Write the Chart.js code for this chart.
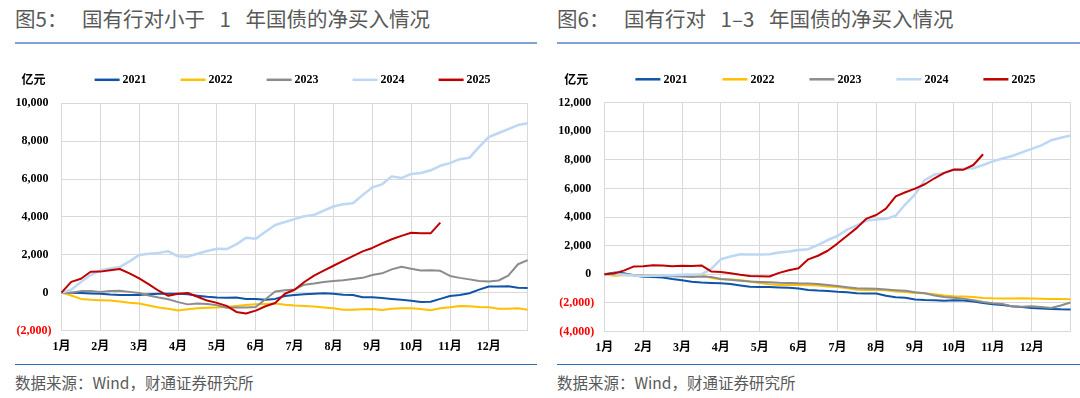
<!DOCTYPE html>
<html><head><meta charset="utf-8">
<script src="https://cdn.jsdelivr.net/npm/chart.js@4.4.0/dist/chart.umd.min.js"></script>
<style>
html,body{margin:0;padding:0;background:#fff;}
body{width:1080px;height:398px;position:relative;overflow:hidden;font-family:"Noto Sans CJK SC",sans-serif;}
.title{position:absolute;top:5px;font-size:20.5px;color:#595959;white-space:pre;word-spacing:10px;line-height:26px;}
.rule{position:absolute;top:42px;height:2px;background:#7DA3D3;}
.rule2{position:absolute;top:363.5px;height:1.5px;background:#2F6DB5;}
.src{position:absolute;top:372px;font-size:15.5px;color:#595959;line-height:20px;white-space:pre;}
.box{position:absolute;top:50px;width:540px;height:315px;}
</style></head>
<body>
<div class="title" style="left:15px">图5： 国有行对小于 1 年国债的净买入情况</div>
<div class="title" style="left:557px">图6： 国有行对 1–3 年国债的净买入情况</div>
<div class="rule" style="left:15px;width:522px"></div>
<div class="rule" style="left:557px;width:523px"></div>
<div class="box" style="left:0"><canvas id="c1" width="540" height="315"></canvas></div>
<div class="box" style="left:540px"><canvas id="c2" width="540" height="315"></canvas></div>
<div class="rule2" style="left:15px;width:522px"></div>
<div class="rule2" style="left:557px;width:523px"></div>
<div class="src" style="left:15px">数据来源：Wind，财通证券研究所</div>
<div class="src" style="left:557px">数据来源：Wind，财通证券研究所</div>
<script>
// ---- data ----
const monthLabels = ['1月','2月','3月','4月','5月','6月','7月','8月','9月','10月','11月','12月'];
const perMonth = 4; // samples per month (weekly-ish)
const periods = Array.from({length: 49}, (_, i) => i); // sampling points across the year
const years = ['2021','2022','2023','2024','2025'];
const colors = ['#0F54A8','#FFC000','#8C8C8C','#BDD7F5','#C00000'];
const unitLabel = '亿元';

// Chart 1: < 1 year
const short2021 = [0,-10,-20,-40,-60,-100,-120,-120,-120,-90,-60,-60,-60,-90,-160,-220,-260,-270,-260,-340,-340,-380,-330,-180,-130,-90,-55,-30,-55,-110,-120,-240,-240,-280,-330,-370,-430,-490,-480,-330,-180,-130,-30,160,320,320,340,260,250];
const short2022 = [0,-150,-330,-380,-400,-420,-470,-530,-570,-680,-780,-850,-940,-880,-830,-800,-780,-760,-700,-650,-620,-600,-580,-640,-680,-700,-730,-780,-830,-900,-900,-880,-870,-920,-850,-830,-820,-860,-930,-820,-770,-700,-720,-760,-770,-850,-850,-830,-900];
const short2023 = [0,0,80,80,40,80,100,40,-20,-150,-260,-350,-500,-620,-580,-600,-660,-800,-790,-780,-760,-350,60,120,170,420,480,560,620,660,720,780,930,1020,1230,1370,1260,1170,1180,1150,880,780,700,620,590,640,900,1500,1720];
const short2024 = [0,150,560,930,1180,1270,1350,1650,1990,2050,2100,2180,1920,1900,2050,2200,2320,2300,2550,2900,2850,3220,3570,3730,3880,4040,4100,4330,4550,4670,4720,5150,5560,5720,6140,6050,6270,6320,6460,6700,6840,7050,7120,7700,8220,8430,8640,8850,8950];
const short2025 = [0,570,730,1100,1110,1180,1250,1020,750,440,100,-170,-60,-20,-220,-420,-540,-700,-1020,-1100,-950,-720,-550,-60,150,560,900,1160,1420,1680,1930,2180,2360,2600,2820,3000,3160,3140,3130,3700];

// Chart 2: 1-3 years
const mid2021 = [0,120,80,-60,-170,-190,-220,-330,-420,-520,-570,-600,-630,-680,-780,-870,-880,-890,-920,-940,-990,-1100,-1140,-1160,-1220,-1250,-1320,-1340,-1340,-1500,-1600,-1640,-1760,-1800,-1810,-1850,-1820,-1830,-1900,-2000,-2100,-2150,-2230,-2280,-2350,-2390,-2420,-2450,-2460];
const mid2022 = [0,-100,-60,-60,-80,-80,-90,-100,-120,-80,-60,-250,-340,-360,-400,-500,-600,-700,-740,-750,-750,-760,-780,-860,-880,-980,-1080,-1100,-1100,-1120,-1200,-1230,-1300,-1330,-1400,-1480,-1530,-1560,-1590,-1650,-1680,-1690,-1690,-1680,-1700,-1710,-1720,-1730,-1750];
const mid2023 = [0,50,30,-40,-80,-100,-110,-130,-160,-190,-150,-180,-330,-380,-450,-500,-530,-560,-590,-600,-630,-640,-680,-750,-820,-900,-980,-1000,-1010,-1060,-1110,-1150,-1250,-1330,-1480,-1580,-1640,-1700,-1810,-1940,-2030,-2080,-2250,-2260,-2240,-2280,-2360,-2180,-1970];
const mid2024 = [0,0,-30,-80,-120,-100,-80,-60,-30,-10,0,380,1050,1250,1400,1380,1380,1400,1520,1600,1700,1760,2050,2400,2680,3120,3420,3760,3830,3880,4100,4900,5600,6600,6980,7090,7320,7380,7420,7650,7900,8100,8280,8530,8780,9020,9380,9560,9710];
const mid2025 = [0,60,260,540,560,640,620,560,600,590,620,200,160,80,-30,-110,-130,-150,100,280,420,1050,1300,1650,2150,2700,3250,3900,4150,4600,5450,5740,6000,6300,6720,7100,7330,7320,7650,8400];

// ---- legend plugin ----
const yearLegend = {
  id: 'yearLegend',
  afterDraw(chart, args, opts) {
    const {ctx, chartArea} = chart;
    ctx.save();
    const y = chartArea.top + opts.offsetY;
    ctx.font = 'bold 12px "Liberation Serif", serif';
    ctx.textBaseline = 'middle';
    const lineW = 25, gap = 3;
    const ds = chart.data.datasets;
    const total = (ds.length - 1) * opts.step + lineW + gap + ctx.measureText(ds[ds.length-1].label).width;
    let x = (chartArea.left + chartArea.right) / 2 - total / 2 + opts.shift;
    ds.forEach(d => {
      ctx.strokeStyle = d.borderColor; ctx.lineWidth = 2.5;
      ctx.beginPath(); ctx.moveTo(x, y); ctx.lineTo(x + lineW, y); ctx.stroke();
      ctx.fillStyle = '#000'; ctx.textAlign = 'left';
      ctx.fillText(d.label, x + lineW + gap, y + 0.5);
      x += opts.step;
    });
    ctx.font = 'bold 12px "Noto Sans CJK SC", sans-serif';
    ctx.textAlign = 'right';
    ctx.fillText(opts.unit, chartArea.left + opts.unitDx, y);
    ctx.restore();
  }
};

function fmt(v){ return Math.abs(v).toLocaleString('en-US'); }

function makeChart(id, series, yMin, yMax, g) {
  const datasets = series.map((s, i) => ({
    label: years[i], data: s, borderColor: colors[i], backgroundColor: colors[i],
    borderWidth: i === 3 ? 2.5 : 2, pointRadius: 0, tension: 0, fill: false,
    order: series.length - i, borderJoinStyle: 'round'
  }));
  return new Chart(document.getElementById(id), {
    type: 'line',
    data: { labels: periods, datasets },
    plugins: [yearLegend],
    options: {
      responsive: false, animation: false, events: [],
      layout: { padding: { left: g.padL, right: g.padR, top: g.padT, bottom: 0 } },
      plugins: {
        legend: { display: false }, tooltip: { enabled: false },
        yearLegend: { unit: unitLabel, offsetY: g.legY, step: g.step, shift: g.shift, unitDx: g.unitDx }
      },
      scales: {
        x: {
          type: 'category', offset: false,
          grid: { color: c => (c.index % perMonth === 0 ? '#D9D9D9' : 'rgba(0,0,0,0)'), drawTicks: false, lineWidth: 1 },
          border: { color: '#D9D9D9' },
          ticks: {
            autoSkip: false, maxRotation: 0, minRotation: 0, padding: 9.5, color: '#000',
            font: { family: '"Liberation Serif", "Noto Sans CJK SC", serif', size: 12, weight: 'bold' },
            callback: (v, i) => (i % perMonth === 0 ? (monthLabels[i / perMonth] || '') : '')
          },
          afterFit: s => { s.height = g.xH; }
        },
        y: {
          min: yMin, max: yMax,
          grid: { color: '#D9D9D9', drawTicks: false, lineWidth: 1 },
          border: { color: '#D9D9D9' },
          ticks: {
            stepSize: 2000, padding: 10,
            color: c => (c.tick && c.tick.value < 0 ? '#FF0000' : '#000'),
            font: { family: '"Liberation Serif", serif', size: 12, weight: 'bold' },
            callback: v => (v < 0 ? '(' + fmt(v) + ')' : fmt(v) + ' ')
          },
          afterFit: s => { s.width = g.yW; }
        }
      }
    }
  });
}

makeChart('c1', [short2021, short2022, short2023, short2024, short2025], -2000, 10000,
  { padL: 10, padR: 12.3, padT: 53.3, yW: 51.5, xH: 34.5, legY: -23.5, step: 86, shift: -2, unitDx: -16 });
makeChart('c2', [mid2021, mid2022, mid2023, mid2024, mid2025], -4000, 12000,
  { padL: 10, padR: 5.6, padT: 52.8, yW: 54.3, xH: 33.5, legY: -23.5, step: 87, shift: -2, unitDx: -16 });
</script>
</body></html>
